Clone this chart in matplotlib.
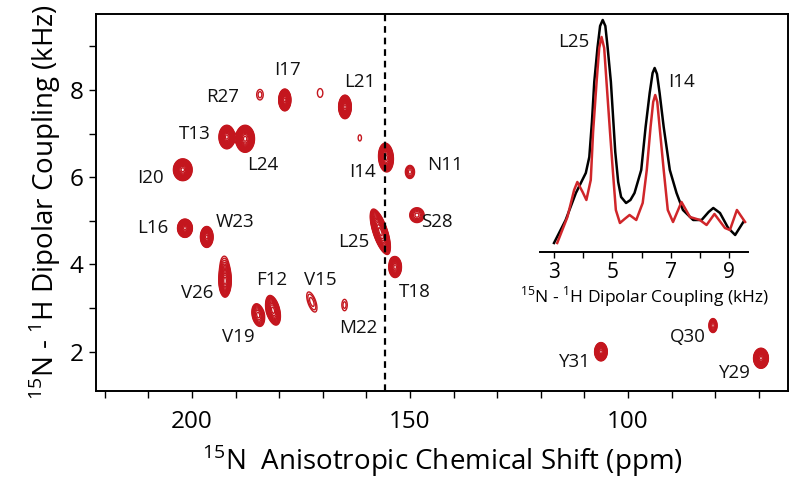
import numpy as np
import matplotlib
matplotlib.use("Agg")
import matplotlib.pyplot as plt

plt.rcParams['font.family'] = ['Open Sans', 'DejaVu Sans']

# 2D spectrum peaks: centre (ppm, kHz), outer half-extent, tilt, number of contour rings
peak_ppm = [184.4, 178.7, 170.6, 164.9, 161.5, 192.0, 187.8, 202.1, 155.5, 201.6, 196.6, 156.8,
            150.0, 148.4, 153.4, 192.4, 192.6, 184.8, 181.4, 172.5, 165.0, 106.2, 80.5, 69.5]
peak_khz = [7.89, 7.77, 7.93, 7.61, 6.90, 6.92, 6.88, 6.17, 6.45, 4.83, 4.63, 4.75,
            6.12, 5.13, 3.94, 3.62, 4.02, 2.84, 2.95, 3.14, 3.07, 2.00, 2.60, 1.85]
peak_wppm = [0.75, 1.40, 0.62, 1.45, 0.38, 1.80, 2.15, 2.15, 1.70, 1.70, 1.45, 1.70,
             1.05, 1.65, 1.45, 1.40, 0.75, 1.40, 1.55, 0.95, 0.62, 1.45, 0.95, 1.70]
peak_wkhz = [0.12, 0.25, 0.10, 0.27, 0.07, 0.27, 0.31, 0.25, 0.33, 0.21, 0.24, 0.52,
             0.15, 0.17, 0.24, 0.37, 0.16, 0.26, 0.34, 0.23, 0.13, 0.21, 0.16, 0.23]
peak_tilt = [0, 0, 0, 0, 0, 0, 0, 0, 0.5, 0, 0, 3.0,
             0, 0, 0, 0, 0, 1.5, 2.0, 3.0, 0, 0, 0, 0]
peak_rings = [2, 16, 1, 16, 1, 16, 16, 16, 14, 16, 15, 16,
              5, 7, 12, 14, 2, 9, 12, 3, 2, 14, 7, 16]

labels = ['R27', 'I17', 'L21', 'T13', 'L24', 'I20', 'I14', 'L16', 'W23', 'L25', 'N11', 'S28',
          'V26', 'F12', 'V15', 'V19', 'M22', 'T18', 'Y31', 'Q30', 'Y29']
label_ppm = [192.9, 178.0, 161.5, 199.3, 183.7, 209.6, 160.8, 208.9, 190.1, 163.0, 142.0, 143.8,
             198.9, 181.7, 170.6, 189.4, 161.9, 148.9, 112.2, 86.2, 75.5]
label_khz = [7.84, 8.46, 8.18, 7.00, 6.28, 5.98, 6.12, 4.83, 4.97, 4.51, 6.28, 4.97,
             3.34, 3.64, 3.64, 2.33, 2.54, 3.37, 1.76, 2.33, 1.51]

dashed_ppm = 155.7

# 1D dipolar slices (inset)
black_khz = [3.00, 3.40, 3.75, 3.92, 4.09, 4.21, 4.30, 4.38, 4.49, 4.58, 4.67, 4.76, 4.84,
             4.95, 5.10, 5.20, 5.30, 5.47, 5.62, 5.76, 5.99, 6.14, 6.28, 6.38, 6.45, 6.53,
             6.62, 6.76, 6.97, 7.20, 7.42, 7.77, 8.06, 8.30, 8.46, 8.69, 8.97, 9.21, 9.49]
black_int = [9, 32, 59, 69, 79, 95, 130, 170, 204, 226, 232, 226, 204,
             170, 100, 70, 55, 49, 52, 59, 82, 125, 159, 179, 184, 178,
             159, 125, 82, 59, 42, 32, 32, 40, 44, 39, 24, 17, 30]
red_khz = [3.11, 3.46, 3.69, 3.80, 3.98, 4.11, 4.26, 4.34, 4.46, 4.55, 4.63, 4.72, 4.80,
           4.92, 5.02, 5.12, 5.26, 5.42, 5.59, 5.82, 6.04, 6.18, 6.31, 6.40, 6.47, 6.54,
           6.62, 6.76, 6.90, 7.08, 7.37, 7.66, 8.00, 8.23, 8.50, 8.86, 9.03, 9.27, 9.55]
red_int = [9, 35, 62, 70, 60, 52, 72, 120, 170, 204, 215, 204, 170,
           120, 80, 42, 29, 33, 37, 32, 49, 82, 125, 150, 157, 150,
           125, 82, 42, 30, 50, 35, 32, 27, 38, 24, 22, 42, 30]
inset_labels = ['L25', 'I14']
inset_label_khz = [3.66, 7.38]
inset_label_int = [210, 170]

RED = '#c4161e'

fig = plt.figure(figsize=(8, 4.94), dpi=100)
ax = fig.add_axes([0.12, 0.2085, 0.865, 0.7632])

# build the contour field
gx = np.linspace(222, 63, 2200)
gy = np.linspace(1.1, 9.75, 1200)
X, Y = np.meshgrid(gx, gy)
Z = np.zeros_like(X)
base = 0.05
ratio = 1.2
for x0, y0, wx, wy, k, n in zip(peak_ppm, peak_khz, peak_wppm, peak_wkhz, peak_tilt, peak_rings):
    amp = base * ratio ** (n - 0.5)
    f = np.sqrt(2 * (n - 0.5) * np.log(ratio))
    sx, sy = wx / f, wy / f
    dx = X - (x0 + k * (Y - y0))
    dy = Y - y0
    Z += amp * np.exp(-dx ** 2 / (2 * sx ** 2) - dy ** 2 / (2 * sy ** 2))
levels = base * ratio ** np.arange(0, 18)
ax.contour(X, Y, Z, levels=levels, colors=RED, linewidths=1.0)

ax.axvline(dashed_ppm, color='black', lw=1.6, ls=(0, (3, 2.2)))

for t, x, y in zip(labels, label_ppm, label_khz):
    ax.text(x, y, t, fontsize=13.5, ha='center', va='center', color='#111111')

ax.set_xlim(222, 63.3)
ax.set_ylim(1.1, 9.74)
ax.set_xticks([200, 150, 100])
ax.set_xticks(np.arange(70, 221, 10), minor=True)
ax.set_yticks([2, 4, 6, 8])
ax.set_yticks([3, 5, 7, 9], minor=True)
ax.tick_params(axis='x', which='both', direction='out', length=5, width=1, labelsize=17.5, pad=9)
ax.tick_params(axis='y', which='both', direction='out', length=5, width=1, labelsize=17.5, pad=4)
for s in ax.spines.values():
    s.set_linewidth(1.4)
ax.set_xlabel(r'$^{\mathregular{15}}$N  Anisotropic Chemical Shift (ppm)', fontsize=20, labelpad=6)
ax.set_ylabel(r'$^{\mathregular{15}}$N - $^{\mathregular{1}}$H Dipolar Coupling (kHz)', fontsize=20, labelpad=5)

# inset with the dipolar slices
ins = fig.add_axes([0.675, 0.4899, 0.26, 0.4818])
ins.patch.set_alpha(0)
ins.plot(black_khz, black_int, color='black', lw=1.8, solid_joinstyle='round')
ins.plot(red_khz, red_int, color='#d0262a', lw=1.8, solid_joinstyle='round')
for t, x, y in zip(inset_labels, inset_label_khz, inset_label_int):
    ins.text(x, y, t, fontsize=13.5, ha='center', va='center', color='#111111')
ins.set_xlim(2.52, 9.65)
ins.set_ylim(0, 238)
for side in ['top', 'left', 'right']:
    ins.spines[side].set_visible(False)
ins.spines['bottom'].set_linewidth(1.4)
ins.set_yticks([])
ins.set_xticks([3, 5, 7, 9])
ins.set_xticks([4, 6, 8], minor=True)
ins.tick_params(axis='x', which='both', direction='out', length=4, width=1, labelsize=15, pad=3)
ins.set_xlabel(r'$^{\mathregular{15}}$N - $^{\mathregular{1}}$H Dipolar Coupling (kHz)', fontsize=12.5, labelpad=1)

fig.savefig('out.png', dpi=100)
